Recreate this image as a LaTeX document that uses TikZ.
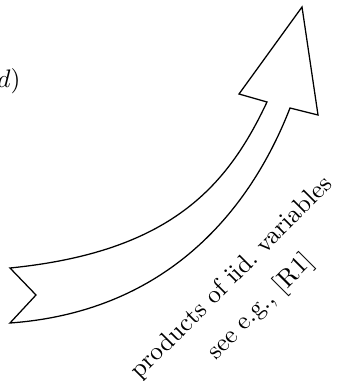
\documentclass[tikz,border=0pt]{standalone}
\begin{document}
\begin{tikzpicture}[x=0.395pt,y=-0.395pt,
  arrowshape/.style={draw=black,line width=0.5pt,line join=miter},
  lbl/.style={inner sep=0pt,align=center,font=\normalsize}]
\useasboundingbox (0,0) rectangle (342,381);
\coordinate (t1) at (10,268);
\coordinate (hl) at (267,102);
\coordinate (bl) at (239,94);
\coordinate (tip) at (302,7);
\coordinate (br) at (318,115);
\coordinate (hr) at (290,108);
\coordinate (t2) at (10,323);
\coordinate (notch) at (36,295);
\draw[arrowshape] (t1) .. controls (170,252) and (227,187) .. (hl)
  -- (bl) -- (tip) -- (br) -- (hr)
  .. controls (262,180) and (190,310) .. (t2) -- (notch) -- cycle;
\node[anchor=base east,inner sep=0pt] (dlab) at (21,88) {$d)$};
\node[lbl,rotate=45] (txt) at (247,293) {products of iid.\ variables\\[4pt]see e.g., [R1]};
\end{tikzpicture}
\end{document}
